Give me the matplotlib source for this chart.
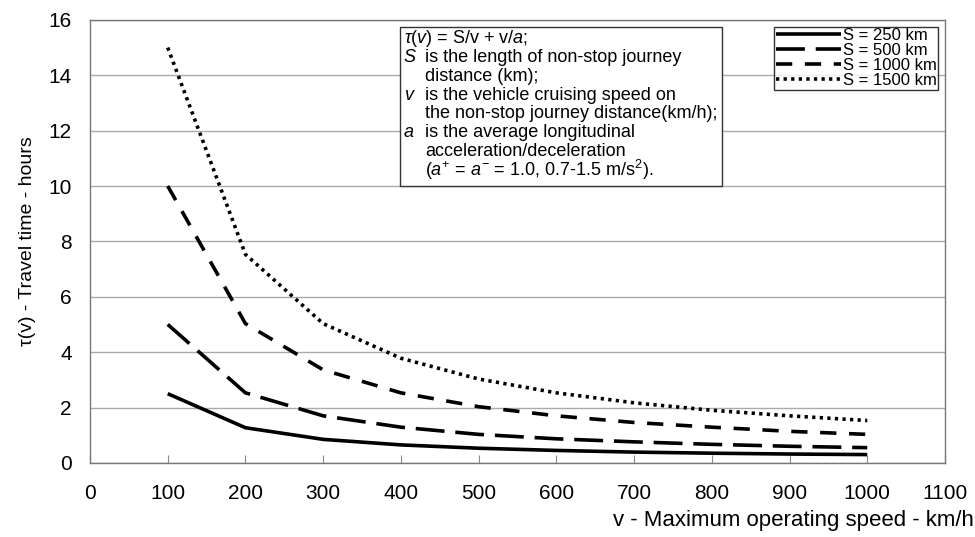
import matplotlib.pyplot as plt
from matplotlib.patches import Rectangle

plt.rcParams['font.family'] = ['Liberation Sans', 'DejaVu Sans']
plt.rcParams['mathtext.fontset'] = 'custom'
plt.rcParams['mathtext.rm'] = 'Liberation Sans'
plt.rcParams['mathtext.it'] = 'Liberation Sans:italic'

speeds = [100, 200, 300, 400, 500, 600, 700, 800, 900, 1000]
t_250 = [2.5, 1.27, 0.85, 0.65, 0.53, 0.45, 0.39, 0.35, 0.32, 0.3]
t_500 = [5.0, 2.53, 1.7, 1.29, 1.03, 0.87, 0.76, 0.67, 0.6, 0.55]
t_1000 = [10.0, 5.03, 3.36, 2.53, 2.03, 1.7, 1.46, 1.29, 1.14, 1.03]
t_1500 = [15.0, 7.53, 5.03, 3.78, 3.03, 2.53, 2.17, 1.9, 1.7, 1.53]
labels = ['S = 250 km', 'S = 500 km', 'S = 1000 km', 'S = 1500 km']

fig = plt.figure(figsize=(9.75, 5.37), dpi=100)
ax = fig.add_axes([0.0923, 0.138, 0.8769, 0.825])

lw = 2.6
ax.plot(speeds, t_250, color='black', lw=lw, label=labels[0], solid_capstyle='butt')
ax.plot(speeds, t_500, color='black', lw=lw, dashes=(8, 3), label=labels[1])
ax.plot(speeds, t_1000, color='black', lw=lw, dashes=(4.5, 3.5), label=labels[2])
ax.plot(speeds, t_1500, color='black', lw=lw, dashes=(0.9, 1.2), label=labels[3])

ax.set_xlim(0, 1100)
ax.set_ylim(0, 16)
ax.set_xticks(range(0, 1101, 100))
ax.set_yticks(range(0, 17, 2))
ax.tick_params(axis='x', direction='in', length=6, color='#888888', labelsize=15, pad=15)
ax.tick_params(axis='y', length=0, labelsize=15, pad=13)
ax.yaxis.grid(True, color='#aaaaaa', lw=1)
ax.set_axisbelow(True)
for s in ax.spines.values():
    s.set_color('#777777')
    s.set_linewidth(1)

ax.set_ylabel('τ(v) - Travel time - hours', fontsize=14, labelpad=9)
fig.text(0.999, 0.012, 'v - Maximum operating speed - km/h', fontsize=16,
         ha='right', va='bottom')

leg = ax.legend(loc='upper right', fontsize=12, handlelength=3.9, handletextpad=0.1,
                borderaxespad=0.4, borderpad=0.1, labelspacing=0.0, fancybox=False,
                frameon=True)
leg.get_frame().set_edgecolor('black')
leg.get_frame().set_linewidth(1)

# definition box for the formula
box = Rectangle((0.3626, 0.625), 0.3764, 0.359, transform=ax.transAxes,
                facecolor='white', edgecolor='#333333', lw=1, zorder=5)
ax.add_patch(box)

x0 = 0.367
x1 = 0.392
y0 = 0.957
dy = 0.0422
fs = 13
ax.text(x0, y0, r'$\mathit{\tau(v)}$ = S/v + v/$\mathit{a}$;', transform=ax.transAxes,
        fontsize=fs, va='center', zorder=6)
rows = [
    ('S', 'is the length of non-stop journey'),
    ('', 'distance (km);'),
    ('v', 'is the vehicle cruising speed on'),
    ('', 'the non-stop journey distance(km/h);'),
    ('a', 'is the average longitudinal'),
    ('', 'acceleration/deceleration'),
    ('', r'($\mathit{a}^{+}$ = $\mathit{a}^{-}$ = 1.0, 0.7-1.5 m/s$^{2}$).'),
]
for i, (sym, txt) in enumerate(rows):
    y = y0 - (i + 1) * dy
    if sym:
        ax.text(x0, y, sym, transform=ax.transAxes, fontsize=fs, style='italic',
                va='center', zorder=6)
    ax.text(x1, y, txt, transform=ax.transAxes, fontsize=fs, va='center', zorder=6)

fig.savefig('out.png', dpi=100)
